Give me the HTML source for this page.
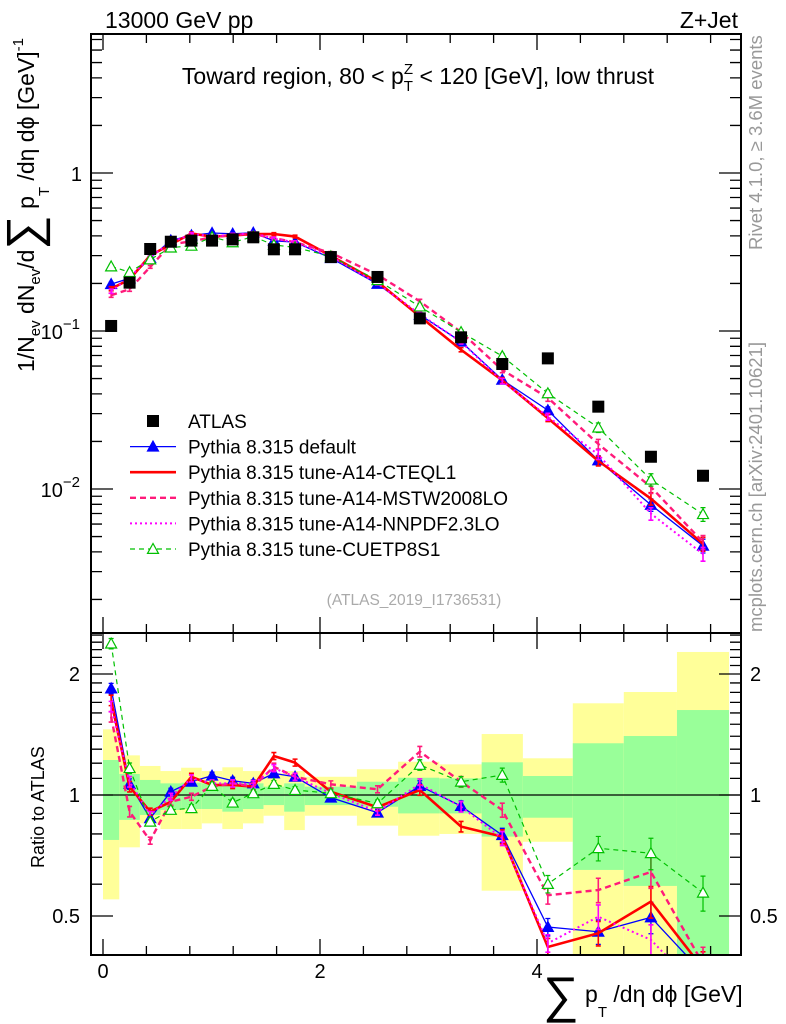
<!DOCTYPE html>
<html><head><meta charset="utf-8"><style>
body{margin:0;background:#fff;}
svg{display:block;font-family:"Liberation Sans",sans-serif;}
</style></head><body>
<svg id="c" width="786" height="1024" viewBox="0 0 786 1024" xmlns="http://www.w3.org/2000/svg">
<g id="bands"></g><g id="grid"></g><g id="series"></g><g id="axes"></g>
<text x="105" y="28" font-size="23">13000 GeV pp</text>
<text x="738" y="28" font-size="23" text-anchor="end">Z+Jet</text>
<text x="418" y="84" font-size="23" text-anchor="middle">Toward region, 80 &lt; p<tspan dy="7" font-size="15">T</tspan><tspan dx="-9" dy="-17" font-size="15">Z</tspan><tspan dy="10"> &lt; 120 [GeV], low thrust</tspan></text>
<text x="414" y="605" font-size="15.5" fill="#aaa" text-anchor="middle">(ATLAS_2019_I1736531)</text>
<text transform="translate(762,250) rotate(-90)" font-size="18.5" fill="#999">Rivet 4.1.0, ≥ 3.6M events</text>
<text transform="translate(762,632) rotate(-90)" font-size="18.5" fill="#999">mcplots.cern.ch [arXiv:2401.10621]</text>
<text transform="translate(34,372) rotate(-90)" font-size="23">1/N<tspan font-size="15" dy="6">ev</tspan><tspan dy="-6"> dN</tspan><tspan font-size="15" dy="6">ev</tspan><tspan dy="-6">/d</tspan><tspan font-size="48" dy="6">∑</tspan><tspan dy="-6"> p</tspan><tspan font-size="15" dy="15">T</tspan><tspan dy="-15"> /dη dϕ  [GeV]</tspan><tspan font-size="15" dy="-11">-1</tspan></text>
<text transform="translate(44,868) rotate(-90)" font-size="18">Ratio to ATLAS</text>
<text x="543" y="1002" font-size="23"><tspan font-size="50" dy="10">∑</tspan><tspan dy="-10"> p</tspan><tspan font-size="15" dy="15">T</tspan><tspan dy="-15"> /dη dϕ [GeV]</tspan></text>
</svg>
<script>
const binEdges=[0,0.15,0.34,0.53,0.72,0.91,1.1,1.29,1.48,1.67,1.86,2.34,2.72,3.1,3.49,3.87,4.33,4.8,5.29,5.77];
const binCenters=[0.075,0.245,0.435,0.625,0.815,1.005,1.195,1.385,1.575,1.77,2.1,2.53,2.92,3.3,3.68,4.1,4.565,5.05,5.53];
const atlas=[0.1076,0.2023,0.3304,0.3673,0.3733,0.3733,0.3802,0.3917,0.3289,0.3289,0.2938,0.2198,0.1202,0.0912,0.0618,0.0671,0.0332,0.0160,0.01213];
const totHi=[1.457,1.255,1.181,1.147,1.169,1.147,1.172,1.147,1.132,1.147,1.110,1.159,1.210,1.192,1.418,1.234,1.691,1.804,2.269];
const totLo=[0.550,0.741,0.850,0.823,0.823,0.850,0.823,0.850,0.888,0.818,0.888,0.839,0.792,0.800,0.578,0.765,0.3,0.3,0.3];
const statHi=[1.222,1.128,1.090,1.069,1.073,1.069,1.073,1.069,1.049,1.069,1.049,1.079,1.104,1.100,1.206,1.115,1.345,1.402,1.627];
const statLo=[0.773,0.867,0.892,0.918,0.923,0.923,0.909,0.923,0.944,0.909,0.944,0.935,0.900,0.900,0.788,0.878,0.651,0.594,0.3];
const mcDefault=[0.198,0.2154,0.2891,0.3743,0.4028,0.4170,0.4125,0.4187,0.3723,0.3651,0.2894,0.1987,0.1266,0.0856,0.0491,0.0315,0.01517,0.00794,0.00437];
const mcCTEQL1=[0.1851,0.2122,0.3003,0.3533,0.4144,0.3953,0.4026,0.4109,0.4111,0.3960,0.2994,0.2049,0.1237,0.0761,0.0487,0.0281,0.01504,0.00869,0.00449];
const mcMSTW=[0.1685,0.1839,0.2544,0.3533,0.3696,0.3916,0.4064,0.4109,0.3868,0.3651,0.3123,0.2271,0.1541,0.0984,0.0567,0.0378,0.01926,0.01030,0.00461];
const mcNNPDF=[0.1786,0.2183,0.2947,0.3636,0.4106,0.3991,0.4064,0.4172,0.3835,0.3651,0.2967,0.1998,0.1280,0.0853,0.0482,0.0287,0.01653,0.00698,0.00388];
const mcCUETP8S1=[0.2561,0.2359,0.2835,0.3372,0.3461,0.3931,0.3639,0.3956,0.3503,0.3384,0.2967,0.2095,0.1428,0.0984,0.0693,0.0403,0.02447,0.01146,0.00693];
const mcRelErr=[0.03,0.03,0.02,0.02,0.02,0.02,0.02,0.02,0.02,0.02,0.02,0.02,0.03,0.03,0.04,0.05,0.07,0.09,0.1];
const mainTickLabels=["1","10","10"];

const NS="http://www.w3.org/2000/svg";
const L=91,R=741,T=34,MB=633,RB=955;
const X=v=>103+108.5*v;
const Y=v=>173-158*Math.log10(v);
const YR=v=>795-121*Math.log2(v);
function mk(tag,attrs,parent){const e=document.createElementNS(NS,tag);for(const k in attrs)e.setAttribute(k,attrs[k]);document.getElementById(parent).appendChild(e);return e;}

for(let i=0;i<binCenters.length;i++){
  const x0=X(binEdges[i]),x1=X(binEdges[i+1]);
  let e=mk('rect',{x:x0,y:YR(totHi[i]),width:x1-x0,height:Math.min(RB,YR(totLo[i]))-YR(totHi[i]),fill:'#ffff99'},'bands');
  
  
  e=mk('rect',{x:x0,y:YR(statHi[i]),width:x1-x0,height:Math.min(RB,YR(statLo[i]))-YR(statHi[i]),fill:'#99ff99'},'bands');
  
  
}
let ln=mk('line',{x1:L,x2:R,y1:YR(1),y2:YR(1),stroke:'#000','stroke-width':1.2},'grid');



const series=[
 {name:'default',d:mcDefault,c:'#0000ff',w:1.3,dash:'',mk:'tri'},
 {name:'cteql1',d:mcCTEQL1,c:'#ff0000',w:2.6,dash:'',mk:'none'},
 {name:'mstw2008lo',d:mcMSTW,c:'#ff1a7a',w:2.4,dash:'6,4',mk:'none'},
 {name:'nnpdf23lo',d:mcNNPDF,c:'#ff00ff',w:2,dash:'2,3',mk:'none'},
 {name:'cuetp8s1',d:mcCUETP8S1,c:'#00c000',w:1.2,dash:'5,4',mk:'otri'}
];
function tri(x,y,c,fill,g,nm){const s=5.5;const p=mk('polygon',{points:`${x},${y-s} ${x-s},${y+s*0.8} ${x+s},${y+s*0.8}`,fill:fill?c:'#fff',stroke:c,'stroke-width':1.2},g);}
series.forEach(s=>{
  for(const panel of ['main','ratio']){
    const pts=s.d.map((v,i)=>[X(binCenters[i]),panel==='main'?Y(v):YR(v/atlas[i])]);
    const g=mk('g',{'clip-path':panel==='main'?'url(#cm)':'url(#cr)'},'series');
    
    
    g.id=`g-${s.name}-${panel}`;
    const pl=mk('polyline',{points:pts.map(p=>p.join(',')).join(' '),fill:'none',stroke:s.c,'stroke-width':s.w,'stroke-dasharray':s.dash},g.id);
    
    
    s.d.forEach((v,i)=>{
      const den=panel==='main'?1:atlas[i];const f=panel==='main'?Y:YR;
      const x=pts[i][0],y1=f(v*(1+mcRelErr[i])/den),y2=f(v*(1-mcRelErr[i])/den);
      const eb=mk('path',{d:`M${x},${y1}V${y2}M${x-2.5},${y1}h5M${x-2.5},${y2}h5`,stroke:s.c,'stroke-width':Math.min(s.w,1.6),fill:'none'},g.id);
      
      
      if(s.mk==='tri')tri(x,pts[i][1],s.c,true,g.id,'marker-point');
      if(s.mk==='otri')tri(x,pts[i][1],s.c,false,g.id,'marker-point');
    });
  }
});
const defs=mk('defs',{},'series');defs.id='dd';
mk('clipPath',{id:'cm'},'dd');mk('rect',{x:L,y:T,width:R-L,height:MB-T},'cm');
mk('clipPath',{id:'cr'},'dd');mk('rect',{x:L,y:MB,width:R-L,height:RB-MB},'cr');

atlas.forEach((v,i)=>{const r=mk('rect',{x:X(binCenters[i])-6,y:Y(v)-6,width:12,height:12,fill:'#000'},'series');
  
  });

for(const [y0,y1,nm] of [[T,MB,'main-frame'],[MB,RB,'ratio-frame']]){
  const f=mk('rect',{x:L,y:y0,width:R-L,height:y1-y0,fill:'none',stroke:'#000','stroke-width':2},'axes');
  
  
}
let tk='';
for(let d=-3;d<=0;d++)for(let m=1;m<10;m++){const v=m*Math.pow(10,d);const y=Y(v);if(y<T||y>MB)continue;const len=m===1?22:11;tk+=`M${L},${y}h${len}M${R},${y}h${-len}`;}
for(let k=4;k<=25;k++){const v=k/10;const y=YR(v);if(y<MB||y>RB)continue;const len=(k===5||k===10||k===20)?22:11;tk+=`M${L},${y}h${len}M${R},${y}h${-len}`;}
for(let k=0;k<=14;k++){const v=k*0.4;const x=X(v);if(x>R)continue;const maj=(k%5===0);const len=maj?16:9;
  tk+=`M${x},${T}v${len}M${x},${MB}v${-len}M${x},${MB}v${len}M${x},${RB}v${-len}`;}
const tp=mk('path',{d:tk,stroke:'#000','stroke-width':1.3,fill:'none'},'axes');


function txt(x,y,s,anchor,size,nm,sup){const t=mk('text',{x:x,y:y,'font-size':size,'text-anchor':anchor},'axes');t.textContent=s;
  if(sup){const ts=document.createElementNS(NS,'tspan');ts.setAttribute('dy','-10');ts.setAttribute('font-size','15');ts.textContent=sup;t.appendChild(ts);}
  }
txt(82,181,mainTickLabels[0],'end',20,'y-tick-label');
txt(80,339,mainTickLabels[1],'end',20,'y-tick-label','−1');
txt(80,497,mainTickLabels[2],'end',20,'y-tick-label','−2');
[[2,'2'],[1,'1'],[0.5,'0.5']].forEach(([v,s])=>{txt(80,YR(v)+7,s,'end',20,'ratio-y-tick-label');txt(750,YR(v)+7,s,'start',20,'ratio-y-tick-label');});
[0,2,4].forEach(v=>txt(X(v),978,String(v),'middle',20,'x-tick-label'));

const leg=[['ATLAS','sq','#000',0,''],['Pythia 8.315 default','tri','#0000ff',1.3,''],['Pythia 8.315 tune-A14-CTEQL1','none','#ff0000',2.6,''],['Pythia 8.315 tune-A14-MSTW2008LO','none','#ff1a7a',2.4,'6,4'],['Pythia 8.315 tune-A14-NNPDF2.3LO','none','#ff00ff',2,'2,3'],['Pythia 8.315 tune-CUETP8S1','otri','#00c000',1.2,'5,4']];
leg.forEach((e,i)=>{const y=421+25.6*i;
  const g=mk('g',{},'axes');g.id='leg'+i;
  
  
  if(e[1]==='sq')mk('rect',{x:147,y:y-6,width:12,height:12,fill:'#000'},g.id);
  else{mk('line',{x1:130,x2:176,y1:y,y2:y,stroke:e[2],'stroke-width':e[3],'stroke-dasharray':e[4]},g.id);
    if(e[1]==='tri')tri(153,y,e[2],true,g.id,'legend-marker');
    if(e[1]==='otri')tri(153,y,e[2],false,g.id,'legend-marker');}
  const t=mk('text',{x:188,y:y+7,'font-size':19},g.id);t.textContent=e[0];
});
</script>
</body></html>
